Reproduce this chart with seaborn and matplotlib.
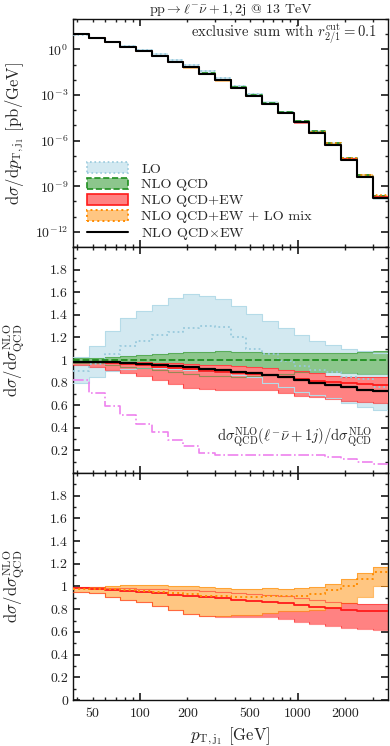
"""Differential pT(j1) distribution for pp -> l nu + 1,2j with ratio panels."""

import matplotlib

matplotlib.use("Agg")

import matplotlib.pyplot as plt
import numpy as np
import seaborn as sns
from matplotlib.lines import Line2D
from matplotlib.patches import Patch
from matplotlib.ticker import FixedLocator, FuncFormatter, LogLocator, MultipleLocator, NullFormatter

# --- data ----------------------------------------------------------------
bin_edges = [37.6, 47.3, 59.6, 75.0, 94.4, 118.9, 149.7, 188.5, 237.3, 298.7, 376.0,
             473.4, 596.0, 750.3, 944.6, 1189.2, 1497.1, 1884.8, 2372.8, 2987.2, 3760.6]

# NLO QCD central value [pb/GeV]
nlo_qcd = [10.4, 5.46, 2.95, 1.52, 0.77, 0.38, 0.16, 0.072, 0.028, 0.0103,
           3.2e-3, 1.0e-3, 2.9e-4, 7.4e-5, 1.9e-5, 4.0e-6, 6.7e-7, 7.2e-8, 5.5e-9, 2.4e-10]

# ratios to NLO QCD
lo_central = [0.905, 0.965, 1.05, 1.12, 1.17, 1.22, 1.25, 1.28, 1.30, 1.29,
              1.20, 1.10, 1.05, 0.99, 0.95, 0.91, 0.89, 0.85, 0.83, 0.76]
lo_up = [1.03, 1.12, 1.26, 1.37, 1.435, 1.49, 1.55, 1.585, 1.565, 1.54,
         1.48, 1.41, 1.345, 1.28, 1.224, 1.172, 1.134, 1.097, 1.08, 1.064]
lo_down = [0.80, 0.85, 0.90, 0.92, 0.93, 0.93, 0.92, 0.91, 0.90, 0.89,
           0.87, 0.85, 0.80, 0.76, 0.72, 0.69, 0.66, 0.62, 0.585, 0.555]

qcd_central = [1.0] * 20
qcd_up = [1.015, 1.02, 1.025, 1.035, 1.045, 1.055, 1.065, 1.07, 1.075, 1.078,
          1.075, 1.07, 1.065, 1.06, 1.06, 1.06, 1.06, 1.065, 1.075, 1.08]
qcd_down = [0.975, 0.972, 0.955, 0.94, 0.93, 0.915, 0.895, 0.875, 0.86, 0.855,
            0.85, 0.86, 0.87, 0.88, 0.89, 0.89, 0.89, 0.885, 0.88, 0.875]

ew_central = [0.985, 0.98, 0.97, 0.962, 0.952, 0.94, 0.928, 0.918, 0.906, 0.895,
              0.884, 0.875, 0.866, 0.852, 0.834, 0.818, 0.808, 0.795, 0.785, 0.782]
ew_up = [0.995, 0.995, 0.99, 0.985, 0.98, 0.975, 0.97, 0.965, 0.96, 0.955,
         0.945, 0.935, 0.925, 0.915, 0.90, 0.885, 0.86, 0.853, 0.847, 0.847]
ew_down = [0.955, 0.94, 0.91, 0.885, 0.86, 0.825, 0.79, 0.755, 0.74, 0.735,
           0.735, 0.735, 0.73, 0.71, 0.685, 0.67, 0.655, 0.635, 0.625, 0.62]

mix_central = [0.982, 0.98, 0.978, 0.97, 0.962, 0.952, 0.942, 0.93, 0.92, 0.912,
               0.906, 0.906, 0.915, 0.918, 0.918, 0.932, 0.965, 1.005, 1.065, 1.13]
mix_up = [0.994, 0.995, 1.005, 1.012, 1.015, 1.015, 1.008, 1.0, 0.994, 0.988,
          0.982, 0.978, 0.985, 0.982, 0.985, 0.994, 1.024, 1.068, 1.118, 1.17]
mix_down = [0.955, 0.94, 0.91, 0.885, 0.86, 0.825, 0.79, 0.755, 0.74, 0.74,
            0.75, 0.75, 0.765, 0.78, 0.785, 0.795, 0.81, 0.85, 0.91, 1.0]

qcdxew = [0.985, 0.983, 0.978, 0.972, 0.965, 0.955, 0.945, 0.935, 0.922, 0.908,
          0.895, 0.885, 0.87, 0.85, 0.825, 0.80, 0.78, 0.76, 0.735, 0.722]

onejet_ratio = [0.826, 0.708, 0.597, 0.51, 0.435, 0.362, 0.295, 0.235, 0.173, 0.155,
                0.16, 0.162, 0.162, 0.16, 0.158, 0.155, 0.145, 0.125, 0.10, 0.075]

x_tick_labels = [50, 100, 200, 500, 1000, 2000]

# --- style ---------------------------------------------------------------
LO_FILL, LO_EDGE, LO_LINE = "#d3e9f1", "#b5dbe8", "#98c9dc"
QCD_FILL, QCD_LINE = "#8cc68c", "#1f8f1f"
EW_FILL, EW_LINE = "#ff8282", "#ff1a1a"
MIX_FILL, MIX_LINE = "#ffc682", "#ff8c00"
ONEJ_LINE = "#ee82ee"

sns.set_theme(style="ticks")
plt.rcParams.update({
    "font.family": ["cmr10", "DejaVu Serif"],
    "mathtext.fontset": "cm",
    "axes.formatter.use_mathtext": True,
    "axes.unicode_minus": False,
    "font.size": 10,
    "axes.linewidth": 1.0,
    "xtick.direction": "in",
    "ytick.direction": "in",
    "xtick.top": True,
    "ytick.right": True,
    "xtick.major.size": 5,
    "ytick.major.size": 5,
    "xtick.minor.size": 2.5,
    "ytick.minor.size": 2.5,
    "xtick.color": "#222222",
    "ytick.color": "#222222",
    "xtick.labelsize": 10,
    "ytick.labelsize": 10,
})

edges = np.array(bin_edges)


def ext(values, scale=None):
    arr = np.asarray(values, dtype=float)
    if scale is not None:
        arr = arr * np.asarray(scale)
    return np.append(arr, arr[-1])


def step_line(ax, values, color, ls="-", lw=0.9, z=3, alpha=1.0, scale=None):
    sns.lineplot(x=edges, y=ext(values, scale), ax=ax, color=color, linestyle=ls,
                 linewidth=lw, drawstyle="steps-post", zorder=z, alpha=alpha,
                 estimator=None, sort=False)


def band(ax, down, up, color, z, scale=None):
    ax.fill_between(edges, ext(down, scale), ext(up, scale), step="post",
                    color=color, lw=0, zorder=z)


fig = plt.figure(figsize=(3.9, 7.46), dpi=100)
left, width = 0.1872, 0.8085
ax_top = fig.add_axes([left, 0.6689, width, 0.3056])
ax_mid = fig.add_axes([left, 0.3660, width, 0.3029], sharex=ax_top)
ax_bot = fig.add_axes([left, 0.0617, width, 0.3043], sharex=ax_top)

# --- top panel: absolute distribution --------------------------------------
band(ax_top, lo_down, lo_up, LO_FILL, 1, nlo_qcd)
band(ax_top, qcd_down, qcd_up, QCD_FILL, 2, nlo_qcd)
band(ax_top, ew_down, ew_up, EW_FILL, 3, nlo_qcd)
band(ax_top, mix_down, mix_up, MIX_FILL, 4, nlo_qcd)
step_line(ax_top, lo_central, LO_LINE, ":", 1.2, 5, scale=nlo_qcd)
step_line(ax_top, qcd_central, QCD_LINE, "--", 1.2, 5, scale=nlo_qcd)
step_line(ax_top, ew_central, EW_LINE, "-", 1.2, 5, scale=nlo_qcd)
step_line(ax_top, mix_central, MIX_LINE, ":", 1.2, 5, scale=nlo_qcd)
step_line(ax_top, qcdxew, "black", "-", 1.5, 6, scale=nlo_qcd)
ax_top.set_yscale("log")
ax_top.set_ylim(1e-13, 1e2)
ax_top.yaxis.set_major_locator(FixedLocator([1e0, 1e-3, 1e-6, 1e-9, 1e-12]))
ax_top.yaxis.set_minor_locator(FixedLocator([10.0 ** k for k in range(-13, 3) if k % 3]))
ax_top.yaxis.set_minor_formatter(NullFormatter())
ax_top.set_ylabel(r"$\mathrm{d}\sigma/\mathrm{d}p_{\mathrm{T,j_1}}$ [pb/GeV]")
ax_top.set_title(r"$\mathrm{pp}\rightarrow\ell^{-}\bar{\nu}+1,2\mathrm{j}$ @ 13 TeV",
                 fontsize=10, pad=4)
ax_top.text(0.963, 0.935, r"exclusive sum with $r_{2/1}^{\mathrm{cut}}=0.1$",
            transform=ax_top.transAxes, ha="right", va="center", fontsize=10.6)

handles = [
    Patch(facecolor=LO_FILL, edgecolor=LO_LINE, linestyle=":", linewidth=1.2),
    Patch(facecolor=QCD_FILL, edgecolor=QCD_LINE, linestyle="--", linewidth=1.2),
    Patch(facecolor=EW_FILL, edgecolor=EW_LINE, linestyle="-", linewidth=1.2),
    Patch(facecolor=MIX_FILL, edgecolor=MIX_LINE, linestyle=":", linewidth=1.4),
    Line2D([], [], color="black", lw=1.5),
]
labels = ["LO", "NLO QCD", "NLO QCD+EW", "NLO QCD+EW + LO mix", r"NLO QCD$\times$EW"]
ax_top.legend(handles, labels, loc="lower left", bbox_to_anchor=(0.005, -0.035),
              frameon=False, handlelength=2.9, handleheight=0.75,
              handletextpad=0.9, labelspacing=0.2, fontsize=10.2)

# --- middle panel: ratios to NLO QCD ---------------------------------------
band(ax_mid, lo_down, lo_up, LO_FILL, 1)
band(ax_mid, qcd_down, qcd_up, QCD_FILL, 2)
band(ax_mid, ew_down, ew_up, EW_FILL, 3)
for vals in (lo_down, lo_up):
    step_line(ax_mid, vals, LO_EDGE, "-", 0.8, 4)
for vals in (qcd_down, qcd_up):
    step_line(ax_mid, vals, QCD_LINE, "-", 0.8, 4, alpha=0.45)
for vals in (ew_down, ew_up):
    step_line(ax_mid, vals, EW_LINE, "-", 0.8, 4, alpha=0.6)
step_line(ax_mid, lo_central, LO_LINE, ":", 1.3, 5)
step_line(ax_mid, qcd_central, QCD_LINE, "--", 1.3, 5)
step_line(ax_mid, ew_central, EW_LINE, "-", 1.3, 5)
step_line(ax_mid, qcdxew, "black", "-", 1.6, 6)
step_line(ax_mid, onejet_ratio, ONEJ_LINE, "-.", 1.2, 5)
ax_mid.text(0.949, 0.16,
            r"$\mathrm{d}\sigma^{\mathrm{NLO}}_{\mathrm{QCD}}(\ell^{-}\bar{\nu}+1j)"
            r"/\mathrm{d}\sigma^{\mathrm{NLO}}_{\mathrm{QCD}}$",
            transform=ax_mid.transAxes, ha="right", va="center", fontsize=10.6)

# --- bottom panel: LO mix --------------------------------------------------
band(ax_bot, ew_down, ew_up, EW_FILL, 1)
band(ax_bot, mix_down, mix_up, MIX_FILL, 2)
for vals in (mix_down, mix_up):
    step_line(ax_bot, vals, MIX_LINE, "-", 0.8, 4, alpha=0.6)
for vals in (ew_down, ew_up):
    step_line(ax_bot, vals, EW_LINE, "-", 0.8, 4, alpha=0.5)
step_line(ax_bot, ew_central, EW_LINE, "-", 1.3, 5)
step_line(ax_bot, mix_central, MIX_LINE, ":", 1.4, 5)

ratio_label = r"$\mathrm{d}\sigma/\mathrm{d}\sigma^{\mathrm{NLO}}_{\mathrm{QCD}}$"
for ax, ticks in ((ax_mid, np.arange(0.2, 1.81, 0.2)), (ax_bot, np.arange(0.0, 1.81, 0.2))):
    ax.set_ylim(0, 2)
    ax.yaxis.set_major_locator(FixedLocator(ticks))
    ax.yaxis.set_minor_locator(MultipleLocator(0.1))
    ax.yaxis.set_major_formatter(FuncFormatter(lambda v, _: f"{v:g}"))
    ax.set_ylabel(ratio_label)

# --- shared x axis ---------------------------------------------------------
ax_bot.set_xscale("log")
ax_bot.set_xlim(bin_edges[0], bin_edges[-1])
ax_bot.xaxis.set_major_locator(LogLocator(base=10))
ax_bot.xaxis.set_minor_locator(LogLocator(base=10, subs=np.arange(2, 10)))
fmt = FuncFormatter(lambda v, _: f"{v:g}" if round(v) in x_tick_labels else "")
ax_bot.xaxis.set_major_formatter(fmt)
ax_bot.xaxis.set_minor_formatter(fmt)
ax_bot.tick_params(axis="x", which="both", pad=6)
ax_bot.set_xlabel(r"$p_{\mathrm{T,j_1}}$ [GeV]")
for ax in (ax_top, ax_mid):
    ax.tick_params(axis="x", which="both", labelbottom=False)
    ax.set_xlabel("")

for ax in (ax_top, ax_mid, ax_bot):
    ax.yaxis.set_label_coords(-0.15, 0.5)
    for side in ("top", "right", "left", "bottom"):
        ax.spines[side].set_visible(True)
        ax.spines[side].set_color("#111111")

fig.savefig("out.png", dpi=100)
